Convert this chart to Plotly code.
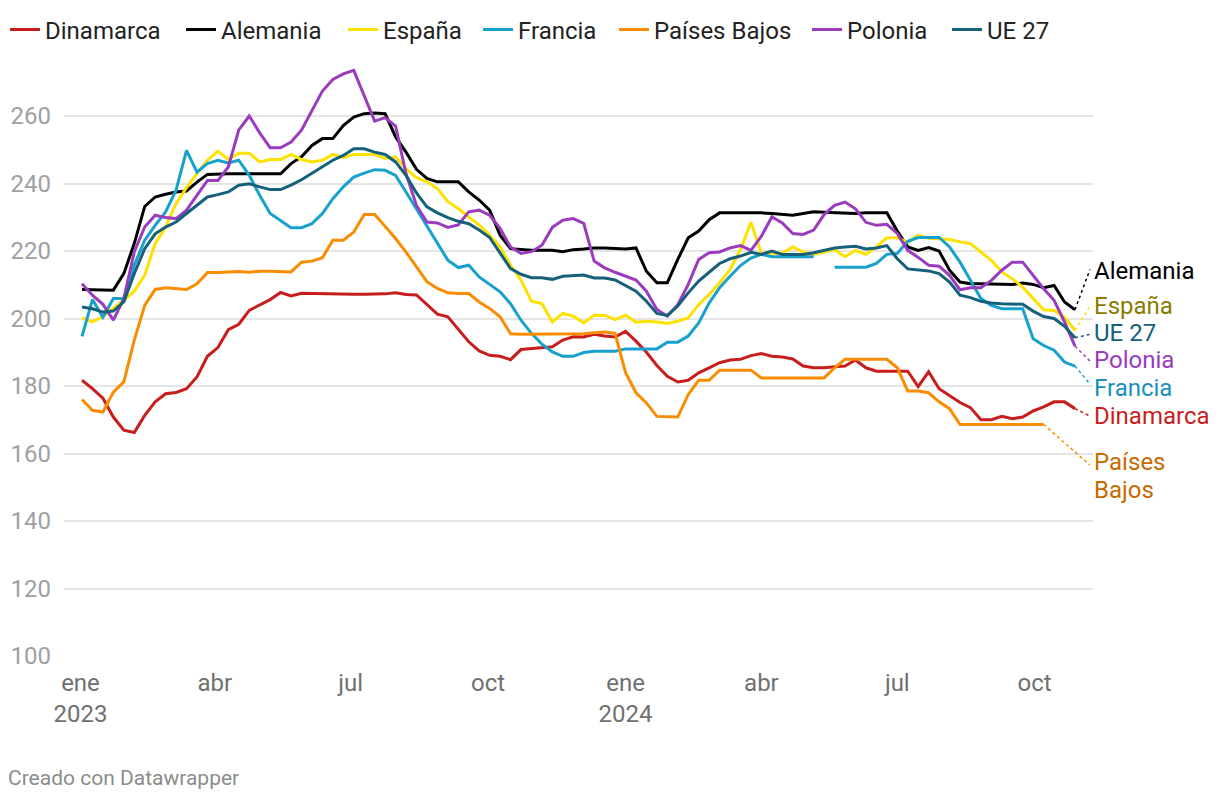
import pandas as pd
import plotly.graph_objects as go

# ---------------- data (weekly, Jan 2 2023 - Oct 28 2024) ----------------
start_date = "2023-01-02"
n_weeks = 96

series_names = ["Dinamarca", "Alemania", "España", "Francia", "Países Bajos", "Polonia", "UE 27"]
series_colors = ["#c71e1d", "#000000", "#ffe100", "#18a1cd", "#fa8c00", "#9b3bbd", "#15607a"]

dinamarca = [
    181.7, 179.2, 176.4, 170.8, 166.9, 166.2, 171.3, 175.3, 177.7, 178.1,
    179.2, 182.7, 188.8, 191.4, 196.7, 198.3, 202.4, 203.9, 205.6, 207.7,
    206.7, 207.5, 207.4, 207.3, 207.2, 207.2, 207.2, 207.2, 207.2, 207.3,
    207.6, 207.1, 207.0, 204.0, 201.3, 200.5, 196.7, 193.1, 190.4, 189.1,
    188.8, 187.8, 190.8, 191.1, 191.3, 191.6, 193.6, 194.6, 194.5, 195.3,
    194.8, 194.5, 196.2, 193.3, 190.0, 186.1, 182.9, 181.2, 181.7, 183.9,
    185.4, 186.9, 187.7, 187.9, 189.0, 189.6, 188.8, 188.6, 188.0, 185.9,
    185.4, 185.4, 185.7, 185.9, 187.7, 185.4, 184.4, 184.4, 184.4, 184.4,
    179.8, 184.2, 179.2, 177.2, 175.1, 173.6, 170.0, 170.0, 171.0, 170.3,
    170.8, 172.6, 173.8, 175.3, 175.3, 173.3,
]
alemania = [
    208.6, 208.5, 208.3, 208.4, 213.3, 222.2, 233.2, 236.0, 236.8, 237.5,
    237.8, 240.4, 242.7, 242.9, 242.9, 242.9, 242.9, 243.1, 242.9, 242.9,
    245.9, 247.9, 251.3, 253.3, 253.3, 257.2, 259.7, 260.7, 260.9, 260.7,
    253.8, 249.3, 244.2, 241.5, 240.5, 240.5, 240.5, 237.5, 235.1, 232.1,
    224.7, 220.7, 220.4, 220.2, 220.2, 220.2, 219.8, 220.4, 220.6, 220.9,
    220.9, 220.7, 220.6, 220.9, 214.0, 210.6, 210.6, 217.5, 223.9, 225.9,
    229.3, 231.3, 231.3, 231.3, 231.4, 231.3, 231.1, 230.8, 230.6, 231.1,
    231.6, 231.5, 231.3, 231.3, 231.1, 231.3, 231.3, 231.3, 225.9, 221.2,
    220.2, 221.0, 220.0, 214.3, 210.8, 210.3, 210.3, 210.3, 210.3, 210.1,
    210.5, 210.1, 209.1, 209.8, 204.9, 202.6,
]
espana = [
    200.2, 199.0, 200.6, 202.9, 205.4, 208.1, 212.8, 222.2, 227.1, 234.0,
    238.8, 242.9, 246.9, 249.6, 247.1, 249.0, 249.0, 246.4, 247.1, 247.1,
    248.6, 247.1, 246.4, 246.9, 248.6, 247.7, 248.6, 248.6, 248.6, 247.4,
    247.9, 244.4, 241.7, 240.5, 238.5, 234.6, 232.6, 230.1, 227.7, 224.7,
    221.2, 215.8, 211.4, 205.1, 204.4, 199.0, 201.5, 200.7, 198.7, 201.0,
    200.9, 199.7, 201.0, 198.9, 199.2, 199.0, 198.5, 199.2, 200.2, 204.1,
    207.1, 210.6, 214.5, 220.4, 228.5, 219.3, 219.3, 219.3, 221.2, 219.7,
    219.0, 219.7, 220.4, 218.3, 220.2, 219.0, 221.2, 223.9, 223.9, 222.6,
    224.7, 223.8, 223.7, 223.4, 222.7, 222.2, 219.7, 217.2, 213.8, 211.8,
    209.3, 205.9, 202.6, 202.4, 200.4, 196.5,
]
francia = [
    194.7, 205.6, 200.4, 205.9, 205.9, 215.8, 223.2, 227.6, 231.6, 238.0,
    249.8, 243.4, 245.9, 246.9, 246.1, 246.9, 242.4, 236.5, 231.1, 229.1,
    226.9, 226.9, 228.1, 231.1, 235.5, 239.0, 241.9, 243.1, 244.1, 243.9,
    242.4, 237.5, 232.4, 227.7, 222.2, 217.3, 215.1, 215.8, 212.3, 210.2,
    207.9, 204.4, 199.5, 195.6, 192.4, 190.1, 188.8, 188.8, 189.9, 190.3,
    190.3, 190.3, 191.0, 191.0, 191.0, 191.0, 193.0, 193.0, 194.8, 198.7,
    204.6, 209.1, 212.5, 215.7, 217.9, 219.0, 218.3, 218.3, 218.3, 218.3,
    218.3, None, 215.2, 215.2, 215.2, 215.2, 216.3, 219.0, 219.3, 222.9,
    224.0, 224.0, 224.0, 221.2, 216.7, 211.3, 205.9, 203.9, 202.9, 202.9,
    202.9, 194.0, 192.0, 190.6, 187.1, 185.9,
]
paises_bajos = [
    176.0, 172.8, 172.3, 178.2, 181.2, 193.5, 203.9, 208.6, 209.1, 208.8,
    208.6, 210.3, 213.6, 213.6, 213.8, 213.9, 213.7, 214.0, 214.0, 213.8,
    213.8, 216.7, 217.0, 218.0, 223.2, 223.2, 225.6, 230.8, 230.8, 227.3,
    223.7, 219.7, 215.1, 210.9, 208.9, 207.6, 207.4, 207.4, 204.9, 203.0,
    200.5, 195.5, 195.3, 195.3, 195.5, 195.5, 195.5, 195.4, 195.5, 195.8,
    196.0, 195.6, 184.0, 178.0, 175.0, 171.0, 170.8, 170.8, 177.5, 181.7,
    181.7, 184.7, 184.7, 184.7, 184.7, 182.4, 182.4, 182.4, 182.4, 182.4,
    182.4, 182.4, 185.4, 187.9, 187.9, 187.9, 187.9, 187.9, 185.4, 178.5,
    178.5, 178.0, 175.3, 173.3, 168.6, 168.6, 168.6, 168.6, 168.6, 168.6,
    168.6, 168.6, 168.6, None, None, None,
]
polonia = [
    210.3, 206.9, 204.2, 199.5, 205.9, 219.7, 227.1, 230.6, 229.9, 229.6,
    232.1, 236.5, 240.9, 240.9, 244.9, 255.9, 260.0, 255.0, 250.6, 250.6,
    252.3, 255.8, 261.7, 267.4, 270.8, 272.5, 273.5, 266.1, 258.5, 259.5,
    257.0, 242.9, 233.5, 228.6, 228.3, 227.0, 227.7, 231.6, 232.1, 230.6,
    226.7, 221.2, 219.3, 219.8, 221.7, 227.0, 229.1, 229.6, 228.2, 217.0,
    215.0, 213.7, 212.5, 211.4, 208.1, 202.7, 200.7, 204.1, 210.1, 217.5,
    219.5, 219.7, 220.9, 221.6, 220.2, 224.4, 230.1, 228.3, 225.2, 224.9,
    226.2, 230.8, 233.5, 234.5, 232.5, 228.5, 227.6, 227.9, 225.2, 220.2,
    218.1, 215.8, 215.5, 212.8, 208.5, 209.1, 209.1, 211.3, 214.3, 216.7,
    216.7, 212.8, 208.8, 205.4, 199.0, 191.8,
]
ue27 = [
    203.4, 202.9, 201.9, 202.2, 204.9, 213.3, 220.7, 225.1, 227.1, 228.6,
    231.1, 233.5, 236.0, 236.7, 237.5, 239.5, 239.9, 239.0, 238.2, 238.2,
    239.5, 241.1, 243.1, 245.1, 246.9, 248.3, 250.3, 250.3, 249.3, 248.6,
    246.4, 242.4, 237.2, 233.1, 231.3, 229.9, 228.8, 228.1, 226.2, 224.0,
    219.3, 214.8, 213.1, 212.1, 212.1, 211.6, 212.5, 212.8, 212.9, 212.0,
    212.0, 211.4, 209.8, 208.1, 205.1, 201.5, 200.9, 203.7, 207.6, 211.1,
    213.7, 216.3, 217.7, 218.5, 219.6, 219.0, 220.0, 219.0, 219.0, 219.0,
    219.5, 220.2, 220.9, 221.2, 221.4, 220.6, 220.9, 221.6, 217.7, 214.7,
    214.3, 214.1, 213.3, 210.8, 206.9, 206.2, 205.1, 204.6, 204.4, 204.4,
    204.2, 202.2, 200.6, 200.0, 197.7, 194.3,
]

# x-axis tick labels
tick_dates = ["2023-01-01", "2023-04-01", "2023-07-01", "2023-10-01",
              "2024-01-01", "2024-04-01", "2024-07-01", "2024-10-01"]
tick_texts = ["ene<br>2023", "abr", "jul", "oct", "ene<br>2024", "abr", "jul", "oct"]
y_ticks = [100, 120, 140, 160, 180, 200, 220, 240, 260]

# direct labels on the right
label_series = ["Alemania", "España", "UE 27", "Polonia", "Francia", "Dinamarca", "Países Bajos"]
label_texts = ["Alemania", "España", "UE 27", "Polonia", "Francia", "Dinamarca", "Países<br>Bajos"]
label_colors = ["#000000", "#8a7c00", "#15607a", "#9b3bbd", "#1a8fba", "#c71e1d", "#c86a00"]
label_y = [214.1, 203.8, 195.6, 187.7, 179.4, 171.1, 153.3]
connector_end_y = [214.5, 203.6, 195.3, 187.4, 180.6, 171.1, 156.6]

# legend entry positions (left edge in px, one legend box per series)
legend_left_px = [5, 181, 343, 478, 614, 807, 947]

# ---------------- figure ----------------
W, H = 1220, 802
dates = pd.date_range(start_date, periods=n_weeks, freq="7D")
values = [dinamarca, alemania, espana, francia, paises_bajos, polonia, ue27]
FONT = "Roboto, 'Noto Sans', Arial, sans-serif"
LABEL_LINE_PX = 28

fig = go.Figure()
legend_layouts = {}
for i, (name, vals, col) in enumerate(zip(series_names, values, series_colors)):
    lg = "legend" if i == 0 else f"legend{i + 1}"
    fig.add_trace(go.Scatter(
        x=dates, y=vals, name=name, mode="lines",
        line=dict(color=col, width=3), connectgaps=False,
        hoverinfo="skip", legend=lg,
    ))
    legend_layouts[lg] = dict(
        orientation="h", xref="container", yref="paper",
        x=legend_left_px[i] / W, y=1.0296, xanchor="left", yanchor="middle",
        font=dict(family=FONT, size=24, color="#222222"),
        itemwidth=30, bgcolor="rgba(0,0,0,0)",
    )

connector_x = pd.Timestamp("2024-11-07")
shapes = []
annotations = []
for s, txt, tcol, ly, cy in zip(label_series, label_texts, label_colors, label_y, connector_end_y):
    idx = series_names.index(s)
    vals = values[idx]
    last = max(i for i, v in enumerate(vals) if v is not None)
    shapes.append(dict(
        type="line", xref="x", yref="y",
        x0=dates[last], y0=vals[last], x1=connector_x, y1=cy,
        line=dict(color=series_colors[idx], width=1.5, dash="dot"),
        layer="above",
    ))
    lines = txt.split("<br>")
    n = len(lines)
    for k, line in enumerate(lines):
        annotations.append(dict(
            xref="paper", yref="y", x=1, y=ly, text=line,
            xanchor="left", yanchor="middle", align="left", showarrow=False,
            font=dict(family=FONT, size=24, color=tcol), xshift=-1,
            yshift=-(k - (n - 1) / 2) * LABEL_LINE_PX,
        ))

annotations.append(dict(
    xref="paper", yref="paper", x=-0.056, y=-0.2008,
    text="Creado con Datawrapper", xanchor="left", yanchor="middle",
    showarrow=False, font=dict(family=FONT, size=21, color="#8c8c8c"),
))

fig.update_layout(
    width=W, height=H,
    margin=dict(l=64, r=127, t=48, b=146, autoexpand=False),
    paper_bgcolor="white", plot_bgcolor="white",
    font=dict(family=FONT, size=24, color="#333333"),
    showlegend=True,
    xaxis=dict(
        type="date",
        range=["2022-12-20 22:50", "2024-11-09 01:40"],
        tickmode="array", tickvals=tick_dates, ticktext=tick_texts,
        showgrid=False, zeroline=False, showline=False, ticks="",
        tickfont=dict(family=FONT, size=24, color="#707070"),
        ticklabelstandoff=10,
    ),
    yaxis=dict(
        range=[100, 280.15],
        tickmode="array", tickvals=y_ticks,
        showgrid=True, gridcolor="#e5e5e5", gridwidth=2,
        zeroline=False, showline=False, ticks="",
        tickfont=dict(family=FONT, size=24, color="#a0a0a0"),
        ticklabelstandoff=12,
    ),
    shapes=shapes,
    annotations=annotations,
    hovermode=False,
    **legend_layouts,
)

fig.write_html(
    "out.html",
    config={"displayModeBar": False},
    post_script="document.body.style.margin='0';document.body.style.overflow='hidden';",
)
